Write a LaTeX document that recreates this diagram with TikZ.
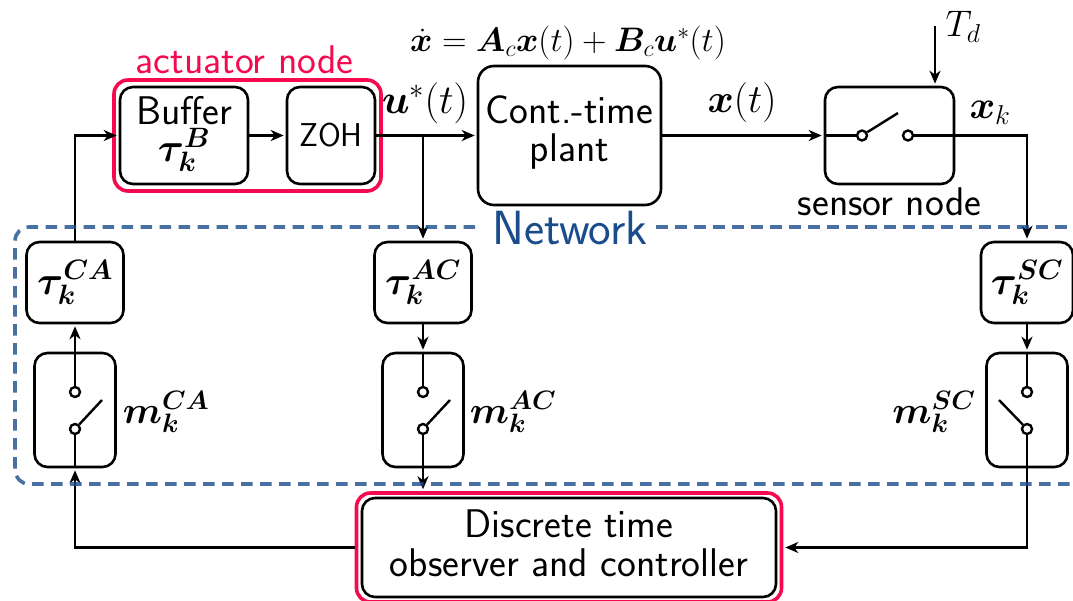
\RequirePackage{fix-cm}
\documentclass[tikz,border=0pt]{standalone}
\usepackage{amsmath}
\usepackage{bm}
\usetikzlibrary{arrows.meta}
\definecolor{redbox}{HTML}{F5094F}
\definecolor{netblue}{HTML}{1A4C8C}
\newcommand{\fs}[1]{\fontsize{#1}{#1}\selectfont}
\tikzset{
  conn/.style={line width=2.4pt,black,shorten >=2pt,-{Stealth[length=13pt,width=11pt,inset=4pt]}},
  plainconn/.style={line width=2.4pt,black},
  blk/.style={draw=black,line width=2.6pt,rounded corners=13pt,inner sep=0pt,align=center,font=\sffamily\fs{40}},
  blktext/.style={inner sep=0pt,align=center,font=\sffamily\fs{40}},
  redrect/.style={draw=redbox,line width=3.6pt,rounded corners=14pt,inner sep=0pt},
  pole/.style={circle,draw=black,fill=white,line width=2.4pt,minimum size=10pt,inner sep=0pt},
  netline/.style={draw=netblue,opacity=.8,line width=3.6pt,dash pattern=on 11.5pt off 7.5pt},
  lab/.style={inner sep=0pt,font=\fs{40}},
}
\begin{document}
\begin{tikzpicture}[x=1pt,y=-1pt]
\useasboundingbox (0,0) rectangle (1073,601);
% actuator node
\node[redrect,minimum width=267pt,minimum height=111pt] (act) at (247.5,135.5) {};
\node[blk,minimum width=128pt,minimum height=97pt] (buffer) at (184,135.5) {};
\node[blktext] (buffertext) at (184,134) {Buffer\\[-3pt]$\bm{\tau}_{\bm{k}}^{\bm{B}}$};
\node[blk,minimum width=88pt,minimum height=97pt,font=\sffamily\fs{33}] (zoh) at (331,135.5) {ZOH};
\node[font=\sffamily\fs{40},text=redbox,inner sep=0pt] (actlab) at (244.5,60) {actuator node};
% plant and sensor
\node[blk,minimum width=183pt,minimum height=139pt,rounded corners=16pt] (plant) at (569.5,135.5) {};
\node[blktext] (planttext) at (569.5,133) {Cont.-time\\[-2pt]plant};
\node[blk,minimum width=129pt,minimum height=97pt] (sensor) at (889.5,135.5) {};
\node[inner sep=0pt,font=\sffamily\fs{40}] (senslab) at (889.5,202) {sensor node};
\node[pole] (so) at (862,135.5) {};
\node[pole] (sc) at (908,135.5) {};
\coordinate (slev) at (898,113);
\coordinate (tdtop) at (935,26);
\node[lab,font=\fs{37}] (tdlab) at (963,27) {$T_d$};
\node[lab,font=\fs{39}] (xklab) at (990,113) {$\bm{x}_k$};
\node[lab] (xtlab) at (742,103) {$\bm{x}(t)$};
\node[lab,font=\fs{41}] (ulab) at (425,103) {$\bm{u}^{*}(t)$};
\node[lab,font=\fs{34}] (eqlab) at (568,43) {$\dot{\bm{x}}=\bm{A}_c\bm{x}(t)+\bm{B}_c\bm{u}^{*}(t)$};
% tau boxes
\node[blk,minimum width=97pt,minimum height=81pt] (tauca) at (75,282.5) {$\bm{\tau}_{\bm{k}}^{\bm{CA}}$};
\node[blk,minimum width=97pt,minimum height=81pt] (tauac) at (423,282.5) {$\bm{\tau}_{\bm{k}}^{\bm{AC}}$};
\node[blk,minimum width=92pt,minimum height=81pt] (tausc) at (1027,282.5) {$\bm{\tau}_{\bm{k}}^{\bm{SC}}$};
% m boxes
\node[blk,minimum width=81pt,minimum height=114pt] (mca) at (75,410) {};
\node[blk,minimum width=81pt,minimum height=114pt] (mac) at (423,410) {};
\node[blk,minimum width=81pt,minimum height=114pt] (msc) at (1027,410) {};
\node[lab,font=\fs{38}] (mcalab) at (166,412) {$\bm{m}_{\bm{k}}^{\bm{CA}}$};
\node[lab,font=\fs{38}] (maclab) at (513,412) {$\bm{m}_{\bm{k}}^{\bm{AC}}$};
\node[lab,font=\fs{38}] (msclab) at (934,412) {$\bm{m}_{\bm{k}}^{\bm{SC}}$};
% controller
\node[redrect,minimum width=425pt,minimum height=109pt] (ctrlred) at (569,547.5) {};
\node[blk,minimum width=414pt,minimum height=99pt] (ctrl) at (569,547.5) {};
\node[blktext] (ctrltext) at (569,543.5) {Discrete time\\[-1pt]observer and controller};
% switch poles
\node[pole] (caup) at (75,392) {};
\node[pole] (calo) at (75,429) {};
\node[pole] (acup) at (423,392) {};
\node[pole] (aclo) at (423,429) {};
\node[pole] (scup) at (1027,392) {};
\node[pole] (sclo) at (1027,429) {};
\coordinate (calev) at (102,400);
\coordinate (aclev) at (450,400);
\coordinate (sclev) at (999,400);
\coordinate (ujunc) at (423,135.5);
% connectors
\draw[conn] (tauca.north) |- (buffer.west);
\draw[conn] (buffer.east) -- (zoh.west);
\draw[conn] (zoh.east) -- (plant.west);
\draw[conn] (ujunc) -- (tauac.north);
\draw[conn] (plant.east) -- (sensor.west);
\draw[plainconn] (sensor.west) -- (so.west);
\draw[plainconn] (so) -- (slev);
\draw[conn] (sc.east) -| (tausc.north);
\draw[conn] (tdtop) -- (sensor.north -| tdtop);
\draw[conn] (caup.north) -- (tauca.south);
\draw[plainconn] (calo) -- (calev);
\draw[conn] (ctrlred.west) -| (mca.south);
\draw[plainconn] (mca.south) -- (calo.south);
\draw[conn] (tauac.south) -- (mac.north);
\draw[plainconn] (mac.north) -- (acup.north);
\draw[plainconn] (aclo) -- (aclev);
\draw[conn] (aclo.south) -- (aclo |- ctrlred.north);
\draw[conn] (tausc.south) -- (msc.north);
\draw[plainconn] (msc.north) -- (scup.north);
\draw[plainconn] (sclo) -- (sclev);
\draw[conn] (sclo.south) |- (ctrlred.east);
% network
\node[inner sep=0pt,font=\sffamily\fs{48},text=netblue] (netlab) at (570,228) {Network};
\coordinate (nl) at (475,227);
\coordinate (nr) at (656,227);
\draw[netline,rounded corners=14pt] (nl) -- (15,227) -- (15,484) -- (1073,484);
\draw[netline] (nr) -- (1073,227);
\end{tikzpicture}
\end{document}
